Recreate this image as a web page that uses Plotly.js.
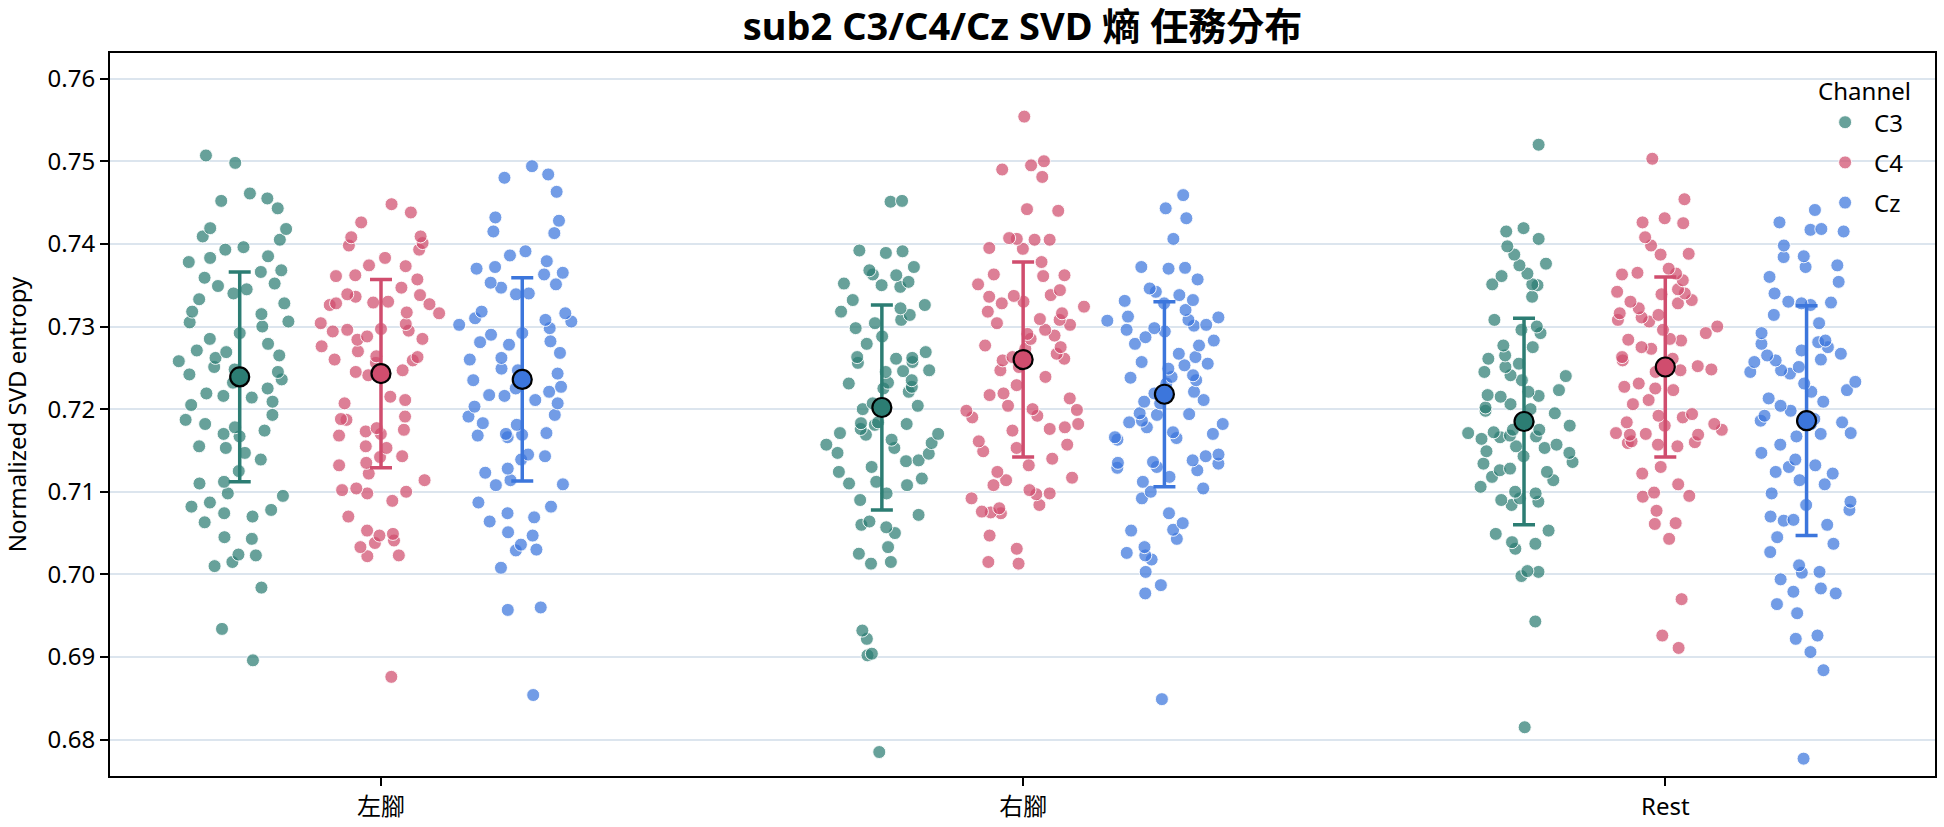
<!DOCTYPE html>
<html>
<head>
<meta charset="utf-8">
<script src="https://cdn.plot.ly/plotly-3.0.1.min.js"></script>
<style>html,body{margin:0;padding:0;background:#fff;}#chart{width:1944px;height:827px;}</style>
</head>
<body>
<div id="chart"></div>
<script>
const tasks = ['左腳', '右腳', 'Rest'];
const channels = ['C3', 'C4', 'Cz'];

const c3_left = [0.7507,0.7498,0.7461,0.7455,0.7452,0.7443,0.7419,0.7418,0.7409,0.7405,0.7396,0.7393,0.7385,0.7383,0.7378,0.7368,0.7366,0.7359,0.7352,0.7349,0.7345,0.7340,0.7333,0.7328,0.7318,0.7315,0.7306,0.7305,0.7300,0.7292,0.7285,0.7279,0.7271,0.7269,0.7265,0.7262,0.7258,0.7251,0.7248,0.7245,0.7242,0.7236,0.7232,0.7225,0.7219,0.7216,0.7214,0.7209,0.7205,0.7193,0.7187,0.7182,0.7178,0.7174,0.7170,0.7167,0.7155,0.7153,0.7147,0.7139,0.7125,0.7112,0.7110,0.7098,0.7095,0.7087,0.7082,0.7078,0.7074,0.7070,0.7063,0.7045,0.7043,0.7024,0.7023,0.7015,0.7010,0.6984,0.6934,0.6896];
const c3_right = [0.7452,0.7451,0.7392,0.7391,0.7389,0.7372,0.7368,0.7363,0.7362,0.7354,0.7352,0.7350,0.7348,0.7332,0.7326,0.7322,0.7318,0.7314,0.7308,0.7304,0.7298,0.7288,0.7279,0.7269,0.7263,0.7262,0.7261,0.7257,0.7256,0.7247,0.7246,0.7245,0.7235,0.7232,0.7231,0.7227,0.7225,0.7221,0.7207,0.7204,0.7200,0.7184,0.7183,0.7182,0.7181,0.7176,0.7171,0.7170,0.7169,0.7163,0.7159,0.7157,0.7153,0.7147,0.7146,0.7138,0.7137,0.7130,0.7124,0.7116,0.7112,0.7110,0.7108,0.7098,0.7090,0.7072,0.7064,0.7060,0.7057,0.7050,0.7033,0.7025,0.7015,0.7013,0.6932,0.6922,0.6904,0.6902,0.6785];
const c3_rest = [0.7520,0.7419,0.7415,0.7406,0.7397,0.7387,0.7376,0.7374,0.7364,0.7361,0.7351,0.7351,0.7350,0.7336,0.7308,0.7300,0.7296,0.7292,0.7277,0.7275,0.7265,0.7261,0.7255,0.7251,0.7245,0.7241,0.7240,0.7235,0.7223,0.7221,0.7217,0.7216,0.7215,0.7206,0.7202,0.7200,0.7198,0.7195,0.7184,0.7180,0.7175,0.7172,0.7168,0.7166,0.7164,0.7175,0.7171,0.7167,0.7157,0.7155,0.7153,0.7149,0.7147,0.7143,0.7136,0.7134,0.7128,0.7126,0.7124,0.7118,0.7114,0.7106,0.7100,0.7098,0.7092,0.7090,0.7088,0.7084,0.7053,0.7049,0.7039,0.7037,0.7031,0.7004,0.7003,0.6998,0.6943,0.6815];

const c4_left = [0.7448,0.7438,0.7426,0.7409,0.7408,0.7401,0.7398,0.7393,0.7383,0.7374,0.7373,0.7362,0.7361,0.7357,0.7347,0.7339,0.7338,0.7336,0.7330,0.7329,0.7328,0.7327,0.7326,0.7317,0.7316,0.7304,0.7303,0.7297,0.7296,0.7295,0.7294,0.7288,0.7285,0.7284,0.7276,0.7270,0.7264,0.7263,0.7260,0.7259,0.7256,0.7247,0.7245,0.7241,0.7215,0.7211,0.7207,0.7191,0.7188,0.7187,0.7177,0.7175,0.7173,0.7170,0.7168,0.7155,0.7153,0.7143,0.7142,0.7135,0.7132,0.7122,0.7114,0.7104,0.7102,0.7100,0.7098,0.7089,0.7070,0.7053,0.7049,0.7047,0.7041,0.7038,0.7033,0.7023,0.7022,0.6876];
const c4_right = [0.7554,0.7500,0.7495,0.7490,0.7481,0.7442,0.7440,0.7407,0.7406,0.7405,0.7405,0.7395,0.7394,0.7378,0.7363,0.7362,0.7361,0.7351,0.7344,0.7337,0.7336,0.7338,0.7330,0.7328,0.7324,0.7318,0.7316,0.7309,0.7308,0.7304,0.7302,0.7296,0.7291,0.7289,0.7285,0.7277,0.7275,0.7273,0.7267,0.7263,0.7261,0.7259,0.7251,0.7247,0.7239,0.7229,0.7219,0.7217,0.7213,0.7204,0.7200,0.7199,0.7198,0.7192,0.7190,0.7182,0.7178,0.7176,0.7174,0.7161,0.7157,0.7153,0.7149,0.7140,0.7132,0.7124,0.7117,0.7114,0.7108,0.7102,0.7098,0.7097,0.7092,0.7084,0.7080,0.7076,0.7075,0.7074,0.7047,0.7031,0.7015,0.7013];
const c4_rest = [0.7503,0.7454,0.7431,0.7426,0.7425,0.7408,0.7398,0.7388,0.7387,0.7370,0.7365,0.7364,0.7363,0.7356,0.7345,0.7342,0.7340,0.7339,0.7332,0.7330,0.7328,0.7322,0.7316,0.7314,0.7311,0.7308,0.7306,0.7300,0.7296,0.7292,0.7285,0.7284,0.7283,0.7275,0.7273,0.7263,0.7261,0.7259,0.7252,0.7251,0.7248,0.7247,0.7245,0.7231,0.7227,0.7225,0.7223,0.7211,0.7206,0.7194,0.7192,0.7190,0.7184,0.7182,0.7180,0.7170,0.7169,0.7160,0.7175,0.7171,0.7169,0.7161,0.7159,0.7157,0.7155,0.7130,0.7122,0.7109,0.7099,0.7095,0.7094,0.7077,0.7062,0.7061,0.7043,0.6970,0.6926,0.6911];

const cz_left = [0.7494,0.7484,0.7480,0.7463,0.7432,0.7428,0.7415,0.7413,0.7391,0.7386,0.7379,0.7372,0.7370,0.7365,0.7363,0.7353,0.7351,0.7347,0.7340,0.7339,0.7318,0.7316,0.7310,0.7308,0.7306,0.7302,0.7298,0.7292,0.7290,0.7282,0.7281,0.7278,0.7268,0.7262,0.7260,0.7249,0.7247,0.7243,0.7235,0.7227,0.7225,0.7221,0.7217,0.7216,0.7211,0.7207,0.7203,0.7193,0.7191,0.7183,0.7181,0.7171,0.7170,0.7168,0.7169,0.7166,0.7145,0.7143,0.7139,0.7128,0.7123,0.7114,0.7109,0.7108,0.7087,0.7082,0.7074,0.7069,0.7064,0.7051,0.7047,0.7036,0.7030,0.7029,0.7008,0.6960,0.6957,0.6854];
const cz_right = [0.7459,0.7443,0.7431,0.7406,0.7372,0.7371,0.7370,0.7357,0.7346,0.7342,0.7338,0.7332,0.7331,0.7328,0.7320,0.7312,0.7311,0.7308,0.7307,0.7302,0.7301,0.7298,0.7296,0.7294,0.7287,0.7283,0.7279,0.7277,0.7267,0.7263,0.7257,0.7255,0.7253,0.7249,0.7241,0.7239,0.7238,0.7235,0.7231,0.7221,0.7219,0.7211,0.7209,0.7207,0.7195,0.7194,0.7193,0.7186,0.7184,0.7182,0.7178,0.7172,0.7166,0.7170,0.7165,0.7163,0.7145,0.7143,0.7138,0.7136,0.7135,0.7134,0.7130,0.7129,0.7126,0.7118,0.7112,0.7104,0.7100,0.7092,0.7074,0.7062,0.7054,0.7053,0.7043,0.7033,0.7026,0.7023,0.7018,0.7003,0.6987,0.6977,0.6849];
const cz_rest = [0.7441,0.7426,0.7418,0.7417,0.7415,0.7398,0.7385,0.7384,0.7374,0.7372,0.7360,0.7354,0.7340,0.7330,0.7329,0.7328,0.7326,0.7314,0.7304,0.7292,0.7283,0.7281,0.7279,0.7275,0.7271,0.7267,0.7265,0.7260,0.7259,0.7257,0.7251,0.7247,0.7245,0.7243,0.7233,0.7231,0.7223,0.7221,0.7213,0.7209,0.7204,0.7198,0.7192,0.7188,0.7186,0.7184,0.7182,0.7170,0.7171,0.7167,0.7157,0.7147,0.7139,0.7132,0.7130,0.7124,0.7122,0.7114,0.7109,0.7098,0.7088,0.7084,0.7078,0.7070,0.7066,0.7065,0.7060,0.7045,0.7037,0.7027,0.7011,0.7003,0.7002,0.6994,0.6983,0.6979,0.6977,0.6964,0.6953,0.6926,0.6922,0.6906,0.6884,0.6777];

// mean and standard deviation per task (order of tasks)
const c3_mean = [0.7239, 0.7202, 0.7185];
const c3_sd   = [0.0127, 0.0124, 0.0125];
const c4_mean = [0.7243, 0.7260, 0.7251];
const c4_sd   = [0.0114, 0.0118, 0.0109];
const cz_mean = [0.7236, 0.7218, 0.7186];
const cz_sd   = [0.0123, 0.0112, 0.0139];

const yTicks = [0.68, 0.69, 0.70, 0.71, 0.72, 0.73, 0.74, 0.75, 0.76];

const FONT = 'Noto Sans, Noto Sans CJK TC, sans-serif';
const pointColors = {C3: 'rgba(44,125,115,0.72)', C4: 'rgba(208,77,110,0.72)', Cz: 'rgba(60,118,220,0.72)'};
const solidColors = {C3: '#2c7d73', C4: '#d04d6e', Cz: '#3c76dc'};

const groups = {
  C3: {vals: [c3_left, c3_right, c3_rest], mean: c3_mean, sd: c3_sd},
  C4: {vals: [c4_left, c4_right, c4_rest], mean: c4_mean, sd: c4_sd},
  Cz: {vals: [cz_left, cz_right, cz_rest], mean: cz_mean, sd: cz_sd}
};

const traces = [];
channels.forEach(ch => {
  const xs = [], ys = [];
  groups[ch].vals.forEach((arr, i) => { arr.forEach(v => { xs.push(tasks[i]); ys.push(v); }); });
  traces.push({
    type: 'box', name: ch, x: xs, y: ys, offsetgroup: ch,
    boxpoints: 'all', jitter: 0.92, pointpos: 0,
    fillcolor: 'rgba(0,0,0,0)', line: {width: 0, color: 'rgba(0,0,0,0)'},
    whiskerwidth: 0,
    marker: {color: pointColors[ch], size: 13, line: {color: 'rgba(255,255,255,0.9)', width: 1}},
    showlegend: false, hoverinfo: 'skip'
  });
});
channels.forEach(ch => {
  traces.push({
    type: 'scatter', mode: 'markers', name: ch, x: tasks, y: groups[ch].mean, offsetgroup: ch,
    marker: {color: solidColors[ch], size: 19, line: {color: '#000', width: 2.2}},
    error_y: {type: 'data', array: groups[ch].sd, visible: true, color: solidColors[ch], thickness: 3.5, width: 11},
    showlegend: false, hoverinfo: 'skip'
  });
});
channels.forEach(ch => {
  traces.push({
    type: 'scatter', mode: 'markers', name: ch, x: [null], y: [null], offsetgroup: ch,
    legendgroup: ch,
    marker: {color: pointColors[ch], size: 13, line: {color: 'rgba(255,255,255,0.9)', width: 1}},
    showlegend: true, hoverinfo: 'skip'
  });
});

const layout = {
  width: 1944, height: 827,
  margin: {l: 110, r: 9, t: 53, b: 51},
  paper_bgcolor: '#fff', plot_bgcolor: '#fff',
  font: {family: FONT, size: 24, color: '#000'},
  title: {text: 'sub2 C3/C4/Cz SVD 熵 任務分布', x: 0.5, xref: 'paper', xanchor: 'center',
          y: 0.968, yref: 'container', yanchor: 'middle',
          font: {family: FONT, size: 38, weight: 'bold', color: '#000'}},
  boxmode: 'group', boxgap: 0.34, boxgroupgap: 0,
  scattermode: 'group', scattergap: 0.34,
  hovermode: false,
  showlegend: true,
  legend: {x: 0.988, xanchor: 'right', y: 0.978, yanchor: 'top', bgcolor: 'rgba(0,0,0,0)',
           font: {family: FONT, size: 24}, title: {text: 'Channel', font: {family: FONT, size: 24}},
           itemclick: false, traceorder: 'grouped', tracegroupgap: 6, itemwidth: 48},
  xaxis: {type: 'category', categoryorder: 'array', categoryarray: tasks,
          range: [-0.422, 2.42], showgrid: false, zeroline: false,
          showline: true, linecolor: '#000', linewidth: 2, mirror: true,
          ticks: 'outside', ticklen: 8, tickwidth: 2, tickcolor: '#000',
          tickfont: {family: FONT, size: 24}},
  yaxis: {range: [0.6756, 0.7631], tickvals: yTicks, tickformat: '.2f',
          showgrid: true, gridcolor: '#dce5ee', gridwidth: 2, zeroline: false,
          showline: true, linecolor: '#000', linewidth: 2, mirror: true,
          ticks: 'outside', ticklen: 8, tickwidth: 2, tickcolor: '#000',
          tickfont: {family: FONT, size: 24},
          title: {text: 'Normalized SVD entropy', font: {family: FONT, size: 24}, standoff: 14}}
};

Plotly.newPlot('chart', traces, layout, {staticPlot: true, displayModeBar: false});
</script>
</body>
</html>
